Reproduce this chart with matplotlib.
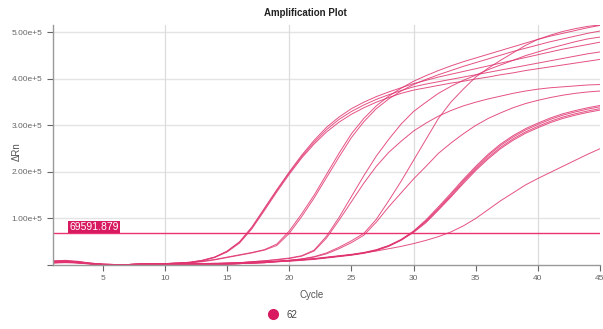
import matplotlib
matplotlib.use("Agg")
import matplotlib.pyplot as plt
from matplotlib.lines import Line2D

plt.rcParams['font.family'] = ['Liberation Sans', 'DejaVu Sans']

# ---------------- data (delta Rn, in units of 1e5) ----------------
cycles = list(range(1, 46))
threshold = 69591.879
well_label = "62"

a1 = [0.08, 0.09, 0.07, 0.04, 0.02, 0.01, 0.01, 0.02, 0.03, 0.03, 0.04, 0.06, 0.10, 0.17, 0.30,
      0.50, 0.82, 1.22, 1.62, 2.00, 2.36, 2.68, 2.96, 3.18, 3.36, 3.50, 3.62, 3.72, 3.81, 3.90,
      3.97, 4.04, 4.10, 4.16, 4.22, 4.28, 4.34, 4.40, 4.46, 4.52, 4.58, 4.64, 4.69, 4.74, 4.79]
a2 = [0.06, 0.07, 0.06, 0.03, 0.01, 0.00, 0.01, 0.02, 0.03, 0.03, 0.04, 0.06, 0.10, 0.17, 0.29,
      0.49, 0.80, 1.20, 1.60, 1.98, 2.33, 2.64, 2.91, 3.13, 3.30, 3.44, 3.56, 3.66, 3.75, 3.83,
      3.89, 3.94, 3.99, 4.04, 4.09, 4.14, 4.19, 4.24, 4.29, 4.34, 4.39, 4.44, 4.49, 4.54, 4.58]
a3 = [0.05, 0.06, 0.05, 0.03, 0.01, 0.00, 0.01, 0.02, 0.02, 0.03, 0.04, 0.05, 0.09, 0.16, 0.28,
      0.47, 0.78, 1.17, 1.57, 1.95, 2.30, 2.60, 2.86, 3.07, 3.24, 3.38, 3.50, 3.60, 3.69, 3.76,
      3.81, 3.86, 3.91, 3.95, 4.00, 4.04, 4.09, 4.13, 4.18, 4.22, 4.26, 4.30, 4.34, 4.38, 4.42]
b1 = [0.09, 0.10, 0.08, 0.04, 0.02, 0.01, 0.01, 0.02, 0.03, 0.03, 0.04, 0.05, 0.08, 0.12, 0.17,
      0.22, 0.27, 0.33, 0.45, 0.73, 1.10, 1.50, 1.95, 2.40, 2.82, 3.15, 3.42, 3.63, 3.80, 3.95,
      4.07, 4.18, 4.28, 4.37, 4.45, 4.53, 4.61, 4.69, 4.77, 4.85, 4.92, 4.98, 5.04, 5.10, 5.15]
b2 = [0.07, 0.08, 0.06, 0.03, 0.01, 0.00, 0.01, 0.02, 0.03, 0.03, 0.04, 0.05, 0.07, 0.11, 0.16,
      0.21, 0.26, 0.32, 0.42, 0.68, 1.04, 1.44, 1.88, 2.32, 2.74, 3.08, 3.36, 3.57, 3.74, 3.88,
      3.99, 4.09, 4.18, 4.27, 4.35, 4.43, 4.51, 4.59, 4.66, 4.73, 4.80, 4.86, 4.92, 4.98, 5.03]
c1 = [0.06, 0.07, 0.05, 0.03, 0.01, 0.00, 0.01, 0.02, 0.02, 0.03, 0.03, 0.03, 0.03, 0.03, 0.04,
      0.05, 0.07, 0.09, 0.12, 0.15, 0.20, 0.32, 0.62, 1.02, 1.47, 1.92, 2.34, 2.70, 3.03, 3.30,
      3.50, 3.69, 3.84, 3.97, 4.08, 4.20, 4.30, 4.40, 4.50, 4.58, 4.66, 4.73, 4.80, 4.86, 4.90]
c2 = [0.05, 0.06, 0.05, 0.03, 0.01, 0.00, 0.01, 0.01, 0.02, 0.02, 0.03, 0.03, 0.03, 0.03, 0.04,
      0.05, 0.07, 0.09, 0.11, 0.14, 0.19, 0.30, 0.58, 0.96, 1.36, 1.76, 2.12, 2.42, 2.66, 2.88,
      3.05, 3.20, 3.32, 3.42, 3.50, 3.57, 3.63, 3.69, 3.74, 3.78, 3.81, 3.83, 3.85, 3.87, 3.88]
d1 = [0.07, 0.08, 0.06, 0.03, 0.01, 0.00, 0.01, 0.02, 0.02, 0.03, 0.03, 0.03, 0.03, 0.04, 0.04,
      0.05, 0.06, 0.07, 0.08, 0.10, 0.13, 0.18, 0.26, 0.38, 0.52, 0.68, 0.98, 1.38, 1.80, 2.25,
      2.70, 3.15, 3.50, 3.78, 4.04, 4.23, 4.40, 4.56, 4.72, 4.85, 4.94, 5.02, 5.08, 5.13, 5.16]
d2 = [0.05, 0.06, 0.05, 0.02, 0.01, 0.00, 0.01, 0.01, 0.02, 0.02, 0.03, 0.03, 0.03, 0.03, 0.04,
      0.05, 0.06, 0.07, 0.08, 0.10, 0.13, 0.17, 0.24, 0.35, 0.48, 0.64, 0.92, 1.25, 1.55, 1.85,
      2.12, 2.40, 2.62, 2.82, 3.00, 3.15, 3.27, 3.38, 3.47, 3.54, 3.60, 3.65, 3.69, 3.72, 3.74]
e1 = [0.08, 0.09, 0.07, 0.04, 0.02, 0.01, 0.01, 0.02, 0.02, 0.02, 0.02, 0.02, 0.02, 0.02, 0.02,
      0.03, 0.05, 0.06, 0.08, 0.10, 0.12, 0.14, 0.17, 0.20, 0.23, 0.27, 0.33, 0.42, 0.55, 0.73,
      0.97, 1.25, 1.54, 1.84, 2.12, 2.38, 2.60, 2.78, 2.93, 3.05, 3.16, 3.25, 3.32, 3.38, 3.43]
e2 = [0.07, 0.08, 0.06, 0.03, 0.01, 0.00, 0.01, 0.01, 0.02, 0.02, 0.02, 0.02, 0.02, 0.02, 0.02,
      0.03, 0.04, 0.06, 0.08, 0.09, 0.11, 0.13, 0.16, 0.19, 0.22, 0.26, 0.32, 0.41, 0.54, 0.72,
      0.95, 1.22, 1.51, 1.81, 2.09, 2.35, 2.57, 2.75, 2.90, 3.02, 3.13, 3.22, 3.29, 3.35, 3.40]
e3 = [0.06, 0.07, 0.05, 0.03, 0.01, 0.00, 0.01, 0.01, 0.02, 0.02, 0.02, 0.02, 0.02, 0.02, 0.02,
      0.03, 0.04, 0.05, 0.07, 0.09, 0.11, 0.13, 0.16, 0.19, 0.22, 0.26, 0.32, 0.41, 0.54, 0.71,
      0.93, 1.20, 1.48, 1.78, 2.06, 2.31, 2.53, 2.71, 2.86, 2.98, 3.09, 3.18, 3.25, 3.31, 3.36]
e4 = [0.04, 0.05, 0.04, 0.02, 0.01, 0.00, 0.01, 0.01, 0.02, 0.02, 0.02, 0.02, 0.02, 0.02, 0.02,
      0.03, 0.04, 0.05, 0.07, 0.08, 0.10, 0.12, 0.15, 0.18, 0.21, 0.25, 0.31, 0.40, 0.53, 0.70,
      0.91, 1.18, 1.46, 1.75, 2.03, 2.28, 2.50, 2.68, 2.83, 2.95, 3.06, 3.15, 3.22, 3.28, 3.33]
f1 = [0.06, 0.07, 0.05, 0.03, 0.01, 0.00, 0.01, 0.01, 0.02, 0.02, 0.02, 0.02, 0.02, 0.02, 0.02,
      0.03, 0.04, 0.05, 0.07, 0.09, 0.11, 0.13, 0.16, 0.19, 0.22, 0.26, 0.30, 0.35, 0.40, 0.46,
      0.53, 0.61, 0.71, 0.84, 1.00, 1.19, 1.38, 1.55, 1.72, 1.86, 1.99, 2.12, 2.25, 2.38, 2.50]

all_wells = [a1, a2, a3, b1, b2, c1, c2, d1, d2, e1, e2, e3, e4, f1]

x_ticks = [5, 10, 15, 20, 25, 30, 35, 40, 45]
x_grid = [10, 20, 30, 40]
y_ticks = [0, 1e5, 2e5, 3e5, 4e5, 5e5]
y_ticklabels = ["", "1.00e+5", "2.00e+5", "3.00e+5", "4.00e+5", "5.00e+5"]

line_col = '#e0336f'
mark_col = '#d81b60'

# ---------------- drawing ----------------
fig = plt.figure(figsize=(6.03, 3.29), dpi=100)
ax = fig.add_axes([0.088, 0.1945, 0.907, 0.731])

for yv in y_ticks[1:]:
    ax.axhline(yv, color='#e4e4e4', lw=1.0, zorder=0)
for xv in x_grid:
    ax.axvline(xv, color='#dcdcdc', lw=0.9, zorder=0)

for well in all_wells:
    ax.plot(cycles, [v * 1e5 for v in well], color=line_col, lw=0.7, alpha=0.85)

ax.axhline(threshold, color='#e8336f', lw=1.0)
ax.text(2.3, threshold + 1500, f"{threshold:.3f}", color='white', fontsize=7.5,
        va='bottom', ha='left',
        bbox=dict(boxstyle='square,pad=0.12', fc=mark_col, ec='none'))

ax.set_xlim(1, 45)
ax.set_ylim(0, 5.17e5)
ax.set_xticks(x_ticks)
ax.set_yticks(y_ticks)
ax.set_yticklabels(y_ticklabels)
ax.tick_params(axis='both', labelsize=6, colors='#666666', length=4, width=0.8)
for s in ['top', 'right']:
    ax.spines[s].set_visible(False)
for s in ['left', 'bottom']:
    ax.spines[s].set_color('#999999')
    ax.spines[s].set_linewidth(1.0)

fig.text(0.507, 0.96, "Amplification Plot", ha='center', va='center',
         fontsize=7, fontweight='bold', color='#222222')
fig.text(0.517, 0.103, "Cycle", ha='center', va='center', fontsize=7, color='#555555')
fig.text(0.027, 0.54, "\u0394Rn", ha='center', va='center', fontsize=7,
         color='#555555', rotation=90)

handle = Line2D([], [], marker='o', color='none', markerfacecolor=mark_col,
                markeredgecolor=mark_col, markersize=7)
fig.legend([handle], [well_label], loc='center', bbox_to_anchor=(0.465, 0.043),
           frameon=False, fontsize=7, handletextpad=0.3, labelcolor='#444444')

fig.savefig('out.png', dpi=100)
